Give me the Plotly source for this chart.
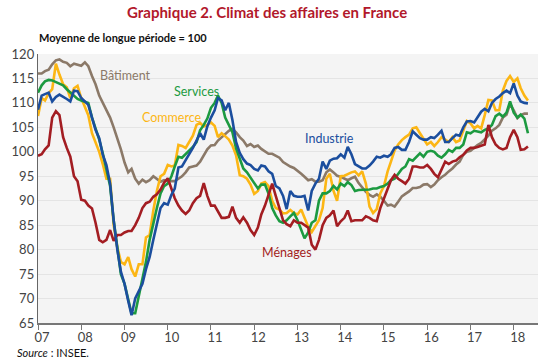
import pandas as pd
import plotly.graph_objects as go

start_month = "2007-01-01"
n_months = 137
months = pd.date_range(start_month, periods=n_months, freq="MS")

batiment = [
    116.0, 116.0, 116.5, 116.8, 117.9, 118.7, 118.9, 118.4, 118.2, 117.5,
    118.0, 117.8, 117.6, 118.3, 117.5, 115.5, 113.8, 111.5, 110.0, 108.8,
    107.0, 105.0, 102.8, 100.5, 97.8, 95.8, 96.5, 94.5, 93.5, 94.3,
    93.8, 94.2, 95.0, 94.4, 93.9, 94.2, 94.0, 94.0, 94.0, 94.5,
    95.0, 95.8, 96.8, 97.0, 97.2, 98.0, 99.3, 100.5, 101.3, 101.4,
    102.3, 103.0, 103.8, 104.3, 104.7, 104.0, 103.0, 102.3, 101.2, 101.6,
    101.0, 101.3, 100.6, 100.0, 99.6, 99.6, 99.2, 98.8, 97.9, 97.4,
    97.0, 96.7, 96.0, 95.5, 94.9, 94.2, 94.4, 93.9, 93.9, 94.2,
    95.8, 96.4, 95.8, 95.1, 94.9, 94.6, 94.2, 94.6, 94.9, 93.6,
    92.6, 91.8, 91.2, 90.8, 91.3, 90.8, 90.0, 89.0, 89.2, 88.8,
    89.8, 90.9, 91.4, 91.9, 92.6, 92.6, 92.8, 93.3, 93.4, 92.8,
    93.3, 94.2, 94.8, 95.3, 96.0, 96.6, 97.4, 98.0, 99.4, 100.0,
    100.2, 100.8, 101.4, 101.8, 102.5, 103.3, 104.3, 104.8, 105.5, 107.0,
    107.6, 109.8, 108.5, 106.9, 107.5, 107.8, 107.8,
]

services = [
    112.1, 113.6, 114.4, 114.7, 114.6, 114.3, 114.0, 113.6, 112.8, 112.2,
    111.5, 110.8, 110.5, 110.3, 110.0, 107.0, 104.8, 102.5, 99.7, 96.5,
    93.0, 86.0, 79.9, 75.0, 73.0, 70.0, 67.0, 67.0, 70.5, 74.5,
    77.5, 82.0, 85.5, 88.5, 91.5, 93.0, 93.5, 95.0, 97.0, 99.0,
    98.8, 99.5, 100.3, 101.0, 102.0, 104.4, 105.5, 106.8, 109.0, 110.0,
    111.5, 110.0, 107.0, 105.5, 104.0, 100.7, 98.5, 96.6, 95.8, 94.7,
    93.7, 92.5, 93.3, 93.3, 91.5, 88.5, 87.0, 85.8, 85.5, 86.0,
    86.8, 87.5, 86.0, 84.0, 82.3, 83.5, 85.5, 86.0, 90.0, 91.5,
    91.5, 92.0, 93.0, 92.3, 93.5, 93.0, 93.8, 93.2, 92.0, 92.2,
    92.2, 92.2, 92.3, 92.5, 92.5, 92.8, 93.0, 93.5, 94.2, 94.5,
    95.5, 96.5, 97.0, 98.5, 98.2, 99.0, 99.7, 99.0, 100.0, 100.2,
    100.0, 99.2, 98.8, 99.5, 100.4, 100.0, 100.8, 100.8, 101.5, 104.0,
    103.8, 104.3, 104.2, 104.0, 104.5, 104.8, 105.5, 107.3, 107.8, 107.2,
    108.0, 110.3, 108.0, 107.0, 107.6, 106.8, 103.8,
]

commerce = [
    107.3, 111.0, 110.5, 112.0, 112.8, 118.0, 115.8, 113.8, 113.2, 111.0,
    113.0, 113.5, 111.0, 109.3, 107.5, 103.8, 102.0, 100.0, 97.5, 94.5,
    94.5, 85.0, 80.5, 77.5, 77.0, 78.5, 76.0, 74.5, 77.0, 77.0,
    82.5, 83.0, 88.0, 92.0, 95.0, 95.5, 97.3, 97.0, 97.2, 101.4,
    101.2, 100.8, 102.0, 103.3, 105.5, 105.9, 105.2, 105.5, 106.0, 105.3,
    103.0, 103.8, 103.2, 102.5, 101.3, 99.3, 95.2, 95.0, 94.5, 93.3,
    91.4, 92.0, 93.5, 93.8, 93.0, 90.0, 88.5, 88.2, 87.4, 87.5,
    88.1, 87.5, 87.2, 88.2, 86.5, 84.7, 83.6, 84.7, 86.0, 88.5,
    94.5, 95.5, 92.0, 90.0, 95.0, 95.1, 95.5, 95.8, 96.0, 95.2,
    96.0, 93.5, 88.8, 87.5, 88.3, 91.5, 93.0, 96.0, 98.0, 100.3,
    101.5, 102.4, 103.0, 103.5, 104.8, 105.0, 103.8, 102.6, 101.5, 102.0,
    101.2, 102.0, 103.0, 102.5, 102.0, 103.0, 102.0, 102.3, 104.5, 106.3,
    105.8, 104.8, 105.3, 104.8, 107.5, 110.6, 110.5, 108.5, 108.5, 112.5,
    114.5, 115.5, 114.3, 115.0, 113.0, 111.5, 110.5,
]

industrie = [
    108.6, 111.5, 111.8, 112.1, 110.3, 111.2, 111.7, 111.3, 110.8, 110.3,
    112.5, 112.4, 111.0, 110.3, 109.6, 107.0, 104.5, 102.8, 99.4, 97.3,
    93.5, 86.0, 80.0, 75.5, 73.0, 69.5, 66.6, 70.0, 71.5, 73.0,
    76.0, 78.5, 82.0, 85.5, 88.5, 89.5, 89.2, 91.2, 92.5, 96.8,
    97.0, 98.3, 99.5, 100.8, 102.3, 103.8, 102.5, 105.2, 107.0, 108.5,
    111.0, 110.5, 108.5, 110.0, 106.5, 102.0, 99.8, 98.5, 97.6, 97.3,
    96.5, 96.2, 97.2, 97.0, 96.0, 95.5, 93.0, 92.5, 91.0, 88.3,
    92.0, 91.0, 90.8, 90.8, 91.0, 88.0, 92.0, 93.5, 94.5, 98.0,
    96.5, 98.2, 98.6, 98.7, 99.5, 98.8, 101.0, 99.5, 97.5, 97.0,
    96.6, 96.6, 97.2, 98.0, 99.0, 98.8, 99.2, 99.0, 99.5, 100.8,
    101.0, 100.4, 100.4, 102.0, 104.2, 103.5, 102.8, 102.5, 102.5, 103.0,
    102.8, 103.5, 104.3, 102.0, 102.0, 102.8, 103.5, 103.3, 105.0, 106.2,
    106.3, 106.0, 107.0, 108.2, 108.8, 108.3, 110.0, 110.8, 111.3, 112.0,
    112.5, 112.0, 114.0, 111.5, 110.3, 110.0, 109.9,
]

menages = [
    99.2, 99.5, 100.5, 101.3, 107.0, 108.3, 107.5, 103.0, 100.8, 99.0,
    95.0, 94.0, 90.2, 90.0, 89.0, 88.4, 85.5, 82.0, 81.5, 82.0,
    84.0, 81.8, 83.0, 83.0, 83.5, 83.8, 83.8, 85.0, 86.5, 88.5,
    89.5, 89.8, 90.8, 91.3, 92.3, 93.7, 94.6, 92.6, 90.5, 89.0,
    88.0, 87.3, 88.0, 89.5, 90.5, 91.0, 93.6, 91.0, 89.0, 89.0,
    87.8, 86.5, 86.5, 86.7, 88.8, 86.5, 85.5, 86.6, 85.5, 84.0,
    83.0, 84.5, 87.2, 89.0, 91.2, 93.5, 91.0, 88.3, 86.0, 85.2,
    84.8, 86.0, 85.5, 85.5, 85.0, 84.5, 81.0, 80.0, 82.0, 85.0,
    86.5, 87.0, 88.0, 84.8, 85.8, 86.5, 88.0, 85.8, 86.0, 86.0,
    86.0, 86.8, 86.5, 86.0, 85.8, 88.5, 90.5, 92.8, 94.2, 95.3,
    94.5, 94.0, 93.5, 94.5, 97.0, 97.0, 96.8, 96.8, 97.3, 96.5,
    95.5, 94.8, 96.5, 98.0, 97.5, 98.0, 98.2, 98.9, 99.4, 100.3,
    100.8, 100.8, 101.0, 101.3, 101.5, 105.5, 103.0, 101.5, 100.8, 100.5,
    100.8, 103.0, 104.5, 103.0, 100.4, 100.5, 101.1,
]

series_names = ["Bâtiment", "Commerce", "Services", "Ménages", "Industrie"]
series_values = [batiment, commerce, services, menages, industrie]
series_colors = ["#8b7968", "#fcb614", "#1c9a40", "#a31d22", "#1b4e9e"]

tick_years = list(range(2007, 2019))
tick_labels = ["07", "08", "09", "10", "11", "12", "13", "14", "15", "16", "17", "18"]
y_ticks = [65, 70, 75, 80, 85, 90, 95, 100, 105, 110, 115, 120]

# label placement: (left date, value)
label_pos = {
    "Bâtiment": ("2008-05-25", 115.7),
    "Services": ("2010-02-05", 112.3),
    "Commerce": ("2009-05-10", 107.0),
    "Industrie": ("2013-02-20", 102.7),
    "Ménages": ("2012-02-20", 79.4),
}

FONT = "Lato, 'Open Sans', sans-serif"

fig = go.Figure()
for name, vals, col in zip(series_names, series_values, series_colors):
    fig.add_trace(go.Scatter(
        x=months, y=vals, mode="lines", name=name,
        line=dict(color=col, width=2.6), hoverinfo="skip",
    ))

for name, col in zip(series_names, series_colors):
    xd, yv = label_pos[name]
    fig.add_annotation(x=xd, y=yv, xref="x", yref="y", text=name,
                       showarrow=False, xanchor="left", yanchor="middle",
                       font=dict(family=FONT, size=12.5, color=col))

fig.add_annotation(x=0.4575, y=1.156, xref="paper", yref="paper",
                   text="<b>Graphique 2. Climat des affaires en France</b>",
                   showarrow=False, xanchor="center", yanchor="middle",
                   font=dict(family=FONT, size=15, color="#b2182b"))
fig.add_annotation(x=-0.002, y=1.063, xref="paper", yref="paper",
                   text="<b>Moyenne de longue période = 100</b>",
                   showarrow=False, xanchor="left", yanchor="middle",
                   font=dict(family=FONT, size=11, color="#111111"))
fig.add_annotation(x=-0.047, y=-0.108, xref="paper", yref="paper",
                   text="<i>Source</i> : INSEE.",
                   showarrow=False, xanchor="left", yanchor="middle",
                   font=dict(family=FONT, size=11, color="#111111"))

fig.update_layout(
    width=550, height=363,
    margin=dict(l=32, r=12, t=54, b=40),
    paper_bgcolor="white", plot_bgcolor="#f4f4f4",
    showlegend=False,
    font=dict(family=FONT),
)
fig.update_xaxes(
    type="date", range=["2007-01-01", "2018-07-25"],
    tickvals=[f"{y}-01-01" for y in tick_years], ticktext=tick_labels,
    ticks="outside", ticklen=5, tickcolor="#777777", tickwidth=1,
    showline=True, linecolor="#777777", linewidth=1.5,
    showgrid=False, zeroline=False, ticklabelshift=4, ticklabelstandoff=-3,
    tickfont=dict(family=FONT, size=13, color="#444444"),
)
fig.update_yaxes(
    range=[65, 120], tickvals=y_ticks,
    showline=True, linecolor="#666666", linewidth=1.2,
    showgrid=True, gridcolor="#e4e4e4", gridwidth=1,
    zeroline=False, ticks="",
    tickfont=dict(family=FONT, size=13, color="#444444"),
)

fig.write_html(
    "out.html",
    config={"displayModeBar": False, "staticPlot": True},
    post_script="document.body.style.margin='0px';document.body.style.overflow='hidden';",
)
